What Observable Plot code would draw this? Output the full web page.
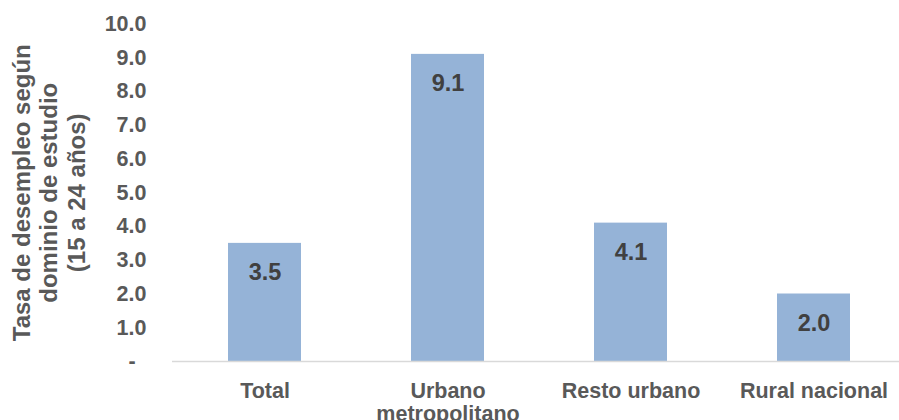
<!DOCTYPE html>
<html>
<head>
<meta charset="utf-8">
<script src="https://cdn.jsdelivr.net/npm/d3@7"></script>
<script src="https://cdn.jsdelivr.net/npm/@observablehq/plot@0.6"></script>
<style>
  html, body { margin: 0; padding: 0; background: #ffffff; }
  #chart { width: 899px; height: 420px; overflow: hidden; }
</style>
</head>
<body>
<div id="chart"></div>
<script>
const categories = ["Total", "Urbano metropolitano", "Resto urbano", "Rural nacional"];
const xLabels = ["Total", "Urbano\nmetropolitano", "Resto urbano", "Rural nacional"];
const values = [3.5, 9.1, 4.1, 2.0];
const yTicks = [0, 1, 2, 3, 4, 5, 6, 7, 8, 9, 10];
const yTitle = "Tasa de desempleo según\ndominio de estudio\n(15 a 24 años)";

const data = categories.map((c, i) => ({cat: c, value: values[i]}));
const labelOf = new Map(categories.map((c, i) => [c, xLabels[i]]));

const chart = Plot.plot({
  width: 899,
  height: 420,
  marginLeft: 172,
  marginRight: 0,
  marginTop: 23.5,
  marginBottom: 59,
  style: {fontFamily: "'Liberation Sans', Arial, sans-serif", background: "#ffffff"},
  x: {domain: categories, range: [172, 906], paddingInner: 0.6, paddingOuter: 0.3, label: null},
  y: {domain: [0, 10], label: null},
  marks: [
    Plot.barY(data, {x: "cat", y: "value", fill: "#95b3d7"}),
    Plot.ruleY([0], {stroke: "#d9d9d9", strokeWidth: 1.5}),
    Plot.axisY({
      ticks: yTicks, tickSize: 0, tickPadding: 26,
      tickFormat: d => d === 0 ? "-\u2002" : d.toFixed(1),
      fontSize: 21.5, fontWeight: "bold", color: "#595959", label: null
    }),
    Plot.axisX({
      tickSize: 0, tickPadding: 20,
      tickFormat: d => labelOf.get(d),
      fontSize: 21.5, fontWeight: "bold", color: "#595959", lineHeight: 1.07, label: null
    }),
    Plot.text(data, {
      x: "cat", y: "value", text: d => d.value.toFixed(1), dy: 29,
      fontSize: 23.5, fontWeight: "bold", fill: "#404040"
    }),
    Plot.text([yTitle], {
      text: d => d, frameAnchor: "left", textAnchor: "middle", lineAnchor: "middle",
      rotate: -90, dx: -124,
      fontSize: 24, fontWeight: "bold", fill: "#595959", lineHeight: 1.15
    })
  ]
});
document.getElementById("chart").appendChild(chart);
</script>
</body>
</html>
